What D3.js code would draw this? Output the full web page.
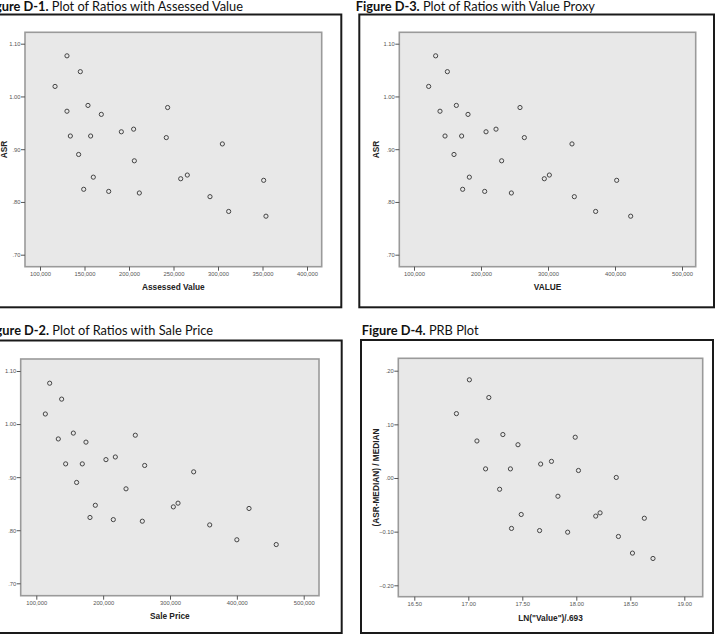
<!DOCTYPE html>
<html><head><meta charset="utf-8">
<script src="https://cdn.jsdelivr.net/npm/d3@7"></script>
<style>
html,body{margin:0;padding:0;background:#fff;}
svg{display:block;}
</style></head>
<body>
<svg id="c" width="719" height="639"></svg>
<script>
// ---- data ----
const asr = [1.077,1.047,1.019,0.983,0.979,0.972,0.966,0.938,0.933,0.925,0.925,0.922,0.910,0.890,0.878,0.851,0.844,0.847,0.841,0.824,0.820,0.817,0.810,0.782,0.773];
const assessedValue = [130300,145300,116900,153900,243400,130300,168900,205200,191400,134100,156900,241900,304900,143400,206000,265500,258100,159900,351300,149100,177200,211600,291000,312000,353900];
const valueProxy = [132300,149800,121900,163200,258200,138800,180600,222400,207500,146300,171100,264700,335800,159700,230800,302000,294500,182600,402500,172600,205500,245300,339300,371100,423400];
const salePrice = [120000,137900,113500,155400,248100,132900,174300,218200,204200,143900,168800,262100,335400,160300,234200,312000,305000,188300,418200,180300,215200,258600,359400,400000,458900];
const prbX = [17.01,17.19,16.89,17.32,17.99,17.08,17.46,17.77,17.67,17.16,17.39,18.02,18.37,17.29,17.83,18.22,18.18,17.49,18.63,17.40,17.66,17.92,18.39,18.52,18.71];
const prbY = [0.183,0.150,0.120,0.081,0.076,0.069,0.062,0.031,0.026,0.017,0.017,0.014,0.001,-0.021,-0.034,-0.065,-0.071,-0.068,-0.075,-0.094,-0.098,-0.101,-0.109,-0.140,-0.150];

const asrTicks = [0.70,0.80,0.90,1.00,1.10];
const assessedTicks = [100000,150000,200000,250000,300000,350000,400000];
const valueTicks = [100000,200000,300000,400000,500000];
const saleTicks = [100000,200000,300000,400000,500000];
const prbXTicks = [16.5,17.0,17.5,18.0,18.5,19.0];
const prbYTicks = [-0.2,-0.1,0.0,0.1,0.2];

const titles = [
  ["Figure D-1.", " Plot of Ratios with Assessed Value"],
  ["Figure D-3.", " Plot of Ratios with Value Proxy"],
  ["Figure D-2.", " Plot of Ratios with Sale Price"],
  ["Figure D-4.", " PRB Plot"]
];
const xTitles = ["Assessed Value","VALUE","Sale Price","LN(\"Value\")/.693"];
const yTitles = ["ASR","ASR","ASR","(ASR-MEDIAN) / MEDIAN"];

// ---- formatting ----
const fmtComma = d3.format(",");
const fmtDec = d => { let s = d3.format(".2f")(d); return s.replace(/^0\./,".").replace(/^-0\./,"-."); };
const fmtFixed = d => d3.format(".2f")(d);

// ---- layout ----
const panels = [
  {frame:[-14,14.5,355.3,292.8], plot:[25,32.3,321.7,266.7], xr:[40,307], xd:[100000,400000], yr:[254.7,43.7], yd:[0.7,1.1],
   xs:assessedValue, ys:asr, xt:assessedTicks, yt:asrTicks, xf:fmtComma, yf:fmtDec, title:0, tx:243, ty:10.5, anchor:"end", xlY:290, ylX:6.5, ylShow:true},
  {frame:[359.3,14.5,354.7,292.8], plot:[399.3,32.3,695.7,266.7], xr:[414,682], xd:[100000,500000], yr:[254.7,43.7], yd:[0.7,1.1],
   xs:valueProxy, ys:asr, xt:valueTicks, yt:asrTicks, xf:fmtComma, yf:fmtDec, title:1, tx:355.7, ty:10.5, anchor:"start", xlY:290, ylX:378.7, ylShow:true},
  {frame:[-14,340.5,355.7,292.5], plot:[20.7,359,319,595.7], xr:[36.3,303.7], xd:[100000,500000], yr:[583.3,371], yd:[0.7,1.1],
   xs:salePrice, ys:asr, xt:saleTicks, yt:asrTicks, xf:fmtComma, yf:fmtDec, title:2, tx:213, ty:335, anchor:"end", xlY:619, ylX:0, ylShow:false},
  {frame:[361,340,352,293], plot:[398.3,358.3,702.7,596.7], xr:[414.3,684.3], xd:[16.5,19.0], yr:[585.3,370.7], yd:[-0.2,0.2],
   xs:prbX, ys:prbY, xt:prbXTicks, yt:prbYTicks, xf:fmtFixed, yf:fmtDec, title:3, tx:361.7, ty:335, anchor:"start", xlY:621, ylX:378.7, ylShow:true}
];

const svg = d3.select("#c");

panels.forEach(p => {
  const g = svg.append("g");
  // outer frame
  g.append("rect").attr("x",p.frame[0]).attr("y",p.frame[1]).attr("width",p.frame[2]).attr("height",p.frame[3])
    .attr("fill","#fff").attr("stroke","#1a1a1a").attr("stroke-width",2);
  // title
  const t = g.append("text").attr("x",p.tx).attr("y",p.ty).attr("text-anchor",p.anchor)
    .attr("font-family","Lato, 'Open Sans', sans-serif").attr("font-size",12.8).attr("fill","#111");
  t.append("tspan").attr("font-weight","bold").text(titles[p.title][0]);
  t.append("tspan").text(titles[p.title][1]);

  const [l,tp,r,b] = p.plot;
  // plot background
  g.append("rect").attr("x",l).attr("y",tp).attr("width",r-l).attr("height",b-tp)
    .attr("fill","#e8e8e8").attr("stroke","#9a9a9a").attr("stroke-width",1.6);

  const x = d3.scaleLinear().domain(p.xd).range(p.xr);
  const y = d3.scaleLinear().domain(p.yd).range(p.yr);

  const xa = g.append("g").attr("transform",`translate(0,${b})`)
    .call(d3.axisBottom(x).tickValues(p.xt).tickFormat(p.xf).tickSize(4).tickPadding(1.5));
  const ya = g.append("g").attr("transform",`translate(${l},0)`)
    .call(d3.axisLeft(y).tickValues(p.yt).tickFormat(p.yf).tickSize(4).tickPadding(0.5));
  [xa,ya].forEach(a => {
    a.select(".domain").remove();
    a.selectAll(".tick line").attr("stroke","#555").attr("stroke-width",1);
    a.selectAll(".tick text").attr("fill","#555").attr("font-size",5.8)
      .attr("font-family","'Liberation Sans', Arial, sans-serif");
  });

  // axis titles
  g.append("text").attr("x",(l+r)/2).attr("y",p.xlY).attr("text-anchor","middle")
    .attr("font-family","'Liberation Sans', Arial, sans-serif").attr("font-weight","bold")
    .attr("font-size",8.3).attr("fill","#222").text(xTitles[p.title]);
  if (p.ylShow) {
    g.append("text").attr("transform",`translate(${p.ylX},${(tp+b)/2}) rotate(-90)`).attr("text-anchor","middle")
      .attr("font-family","'Liberation Sans', Arial, sans-serif").attr("font-weight","bold")
      .attr("font-size",8.3).attr("fill","#222").text(yTitles[p.title]);
  }

  // points
  g.append("g").selectAll("circle").data(p.xs.map((v,i)=>[v,p.ys[i]])).join("circle")
    .attr("cx",d=>x(d[0])).attr("cy",d=>y(d[1])).attr("r",2.1)
    .attr("fill","none").attr("stroke","#444").attr("stroke-width",1);
});
</script>
</body></html>
